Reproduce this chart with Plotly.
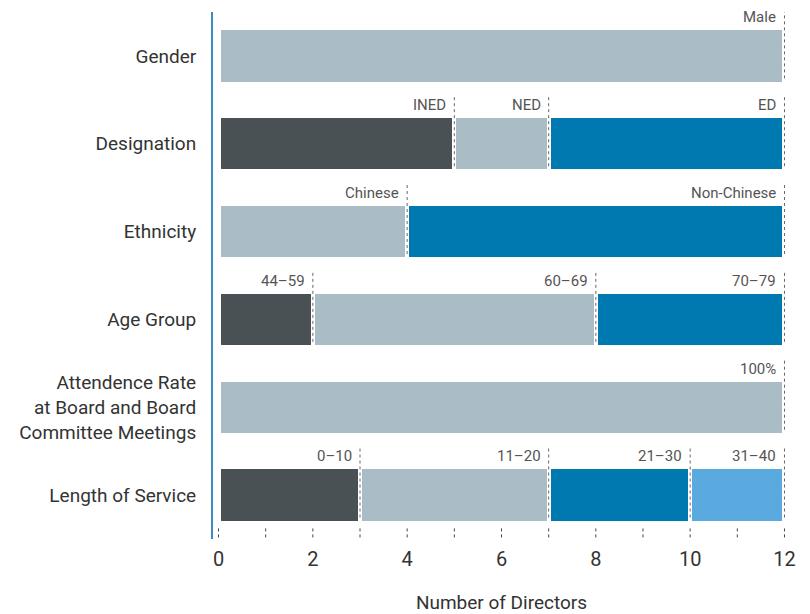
import plotly.graph_objects as go

# Board composition by dimension (number of directors per group)
categories = [
    "Gender",
    "Designation",
    "Ethnicity",
    "Age Group",
    "Attendence Rate<br>at Board and Board<br>Committee Meetings",
    "Length of Service",
]
gender_groups = ["Male"]
gender_counts = [12]
designation_groups = ["INED", "NED", "ED"]
designation_counts = [5, 2, 5]
ethnicity_groups = ["Chinese", "Non-Chinese"]
ethnicity_counts = [4, 8]
age_groups = ["44–59", "60–69", "70–79"]
age_counts = [2, 6, 4]
attendance_groups = ["100%"]
attendance_counts = [12]
service_groups = ["0–10", "11–20", "21–30", "31–40"]
service_counts = [3, 4, 3, 2]
x_ticks = [0, 2, 4, 6, 8, 10, 12]

rows = [
    (gender_groups, gender_counts),
    (designation_groups, designation_counts),
    (ethnicity_groups, ethnicity_counts),
    (age_groups, age_counts),
    (attendance_groups, attendance_counts),
    (service_groups, service_counts),
]

DARK = "#495154"
LIGHT = "#aabcc5"
BLUE = "#0079b0"
SKY = "#5aaadf"
palettes = {1: [LIGHT], 2: [LIGHT, BLUE], 3: [DARK, LIGHT, BLUE], 4: [DARK, LIGHT, BLUE, SKY]}

FONT = "Roboto, Liberation Sans, sans-serif"
BAR_W = 0.63
HALF = 0.29

fig = go.Figure()
shapes = []
annotations = []

for i, (groups, counts) in enumerate(rows):
    colors = palettes[len(groups)]
    start = 0
    for g, c, col in zip(groups, counts, colors):
        end = start + c
        fig.add_trace(go.Bar(
            y=[i], x=[c], base=[start], orientation="h", width=BAR_W,
            marker=dict(color=col, line=dict(color="white", width=4)),
            name=g, showlegend=False, hoverinfo="skip",
        ))
        # dotted marker at the end of each group, with its label
        shapes.append(dict(
            type="line", xref="x", yref="y", x0=end, x1=end,
            y0=i - HALF - 0.24, y1=i + HALF,
            line=dict(color="#666666", width=1, dash="dot"), layer="above",
        ))
        annotations.append(dict(
            x=end, y=i - HALF - 0.15, xref="x", yref="y", text=g,
            showarrow=False, xanchor="right", yanchor="middle", xshift=-6,
            font=dict(family=FONT, size=15, color="#555555"),
        ))
        start = end

# dotted tick marks at every unit along the bottom
for t in range(0, 13):
    shapes.append(dict(
        type="line", xref="x", yref="paper", x0=t, x1=t, y0=0.003, y1=0.022,
        line=dict(color="#444444", width=1, dash="dot"),
    ))

fig.update_layout(
    width=810, height=614,
    margin=dict(l=213, r=20, t=12, b=75, autoexpand=False),
    paper_bgcolor="white", plot_bgcolor="white",
    barmode="overlay", bargap=0,
    shapes=shapes, annotations=annotations,
    font=dict(family=FONT, color="#333333"),
    xaxis=dict(
        range=[-0.117, 12.117], tickvals=x_ticks, showgrid=False, zeroline=False,
        showline=False, ticks="", ticklabelstandoff=6, automargin=False,
        tickfont=dict(family=FONT, size=20, color="#333333"),
        title=dict(text="Number of Directors", standoff=28,
                   font=dict(family=FONT, size=19, color="#333333")),
    ),
    yaxis=dict(
        range=[5.5, -0.5], tickvals=list(range(len(categories))), ticktext=categories,
        showgrid=False, zeroline=False, showline=True, linecolor="#3a8cc0", linewidth=2,
        ticks="", ticklabelstandoff=11, automargin=False,
        tickfont=dict(family=FONT, size=19, color="#333333"),
    ),
)

fig.write_html("out.html")
